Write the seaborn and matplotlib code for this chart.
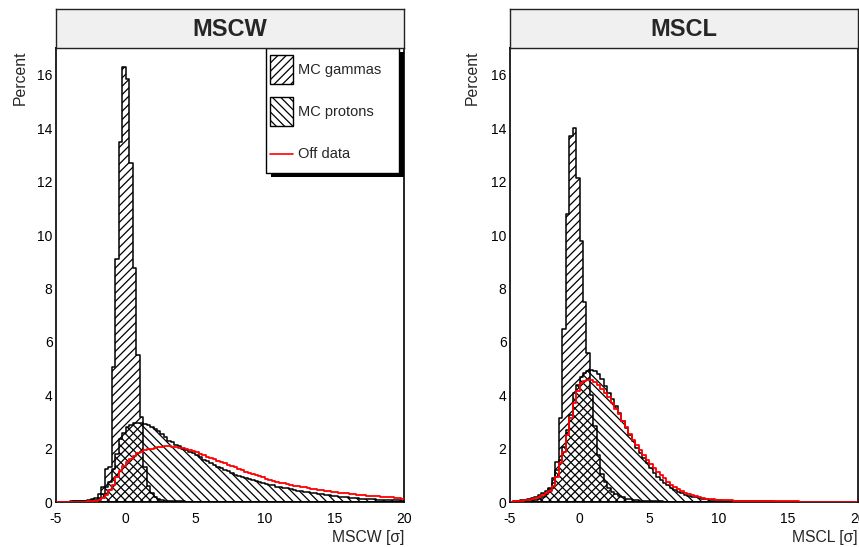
import numpy as np
import pandas as pd
import matplotlib
matplotlib.use("Agg")
import matplotlib.pyplot as plt
from matplotlib.patches import Patch, Rectangle
from matplotlib.lines import Line2D
from matplotlib.legend_handler import HandlerLine2D
from matplotlib.ticker import MultipleLocator
import seaborn as sns

sns.set_style("white")
plt.rcParams["font.family"] = ["Liberation Sans", "DejaVu Sans"]
plt.rcParams["axes.unicode_minus"] = False
plt.rcParams["hatch.linewidth"] = 0.9

# Binning shared by all histograms: 100 bins of 0.25 sigma from -5 to 20
BIN_EDGES = [round(-5.0 + 0.25 * i, 2) for i in range(101)]

# ---------------- MSCW (percent per bin) ----------------
mscw_gammas = [
    0.00, 0.00, 0.00, 0.01, 0.01, 0.02, 0.02, 0.03, 0.04, 0.06,
    0.10, 0.16, 0.30, 0.56, 1.25, 1.30, 5.05, 9.10, 13.50, 16.30,
    15.85, 12.70, 8.75, 5.50, 3.20, 1.30, 0.60, 0.35, 0.20, 0.12,
    0.08, 0.05, 0.04, 0.03, 0.02, 0.02, 0.02, 0.01, 0.01, 0.01,
    0.01, 0.01, 0.01, 0.01, 0.01, 0.00, 0.00, 0.00, 0.00, 0.00,
    0.00, 0.00, 0.00, 0.00, 0.00, 0.00, 0.00, 0.00, 0.00, 0.00,
    0.00, 0.00, 0.00, 0.00, 0.00, 0.00, 0.00, 0.00, 0.00, 0.00,
    0.00, 0.00, 0.00, 0.00, 0.00, 0.00, 0.00, 0.00, 0.00, 0.00,
    0.00, 0.00, 0.00, 0.00, 0.00, 0.00, 0.00, 0.00, 0.00, 0.00,
    0.00, 0.00, 0.00, 0.00, 0.00, 0.00, 0.00, 0.00, 0.00, 0.00,
]
mscw_protons = [
    0.00, 0.00, 0.01, 0.01, 0.02, 0.02, 0.03, 0.03, 0.04, 0.05,
    0.06, 0.08, 0.15, 0.30, 0.58, 0.75, 1.25, 1.80, 2.35, 2.60,
    2.80, 2.90, 2.95, 2.97, 2.97, 2.92, 2.87, 2.80, 2.75, 2.65,
    2.55, 2.42, 2.30, 2.24, 2.15, 2.08, 2.00, 1.96, 1.87, 1.82,
    1.76, 1.68, 1.59, 1.52, 1.45, 1.39, 1.32, 1.26, 1.20, 1.15,
    1.08, 1.03, 0.99, 0.95, 0.91, 0.87, 0.83, 0.79, 0.76, 0.72,
    0.68, 0.65, 0.62, 0.58, 0.55, 0.53, 0.51, 0.48, 0.45, 0.43,
    0.41, 0.39, 0.36, 0.34, 0.32, 0.30, 0.29, 0.27, 0.25, 0.23,
    0.21, 0.20, 0.19, 0.17, 0.16, 0.15, 0.14, 0.13, 0.12, 0.12,
    0.11, 0.10, 0.09, 0.09, 0.08, 0.07, 0.07, 0.06, 0.06, 0.05,
]
mscw_offdata = [
    0.00, 0.00, 0.00, 0.00, 0.00, 0.00, 0.01, 0.01, 0.01, 0.02,
    0.03, 0.05, 0.08, 0.15, 0.25, 0.45, 0.65, 0.95, 1.15, 1.35,
    1.50, 1.62, 1.74, 1.82, 1.88, 1.93, 1.97, 2.00, 2.03, 2.05,
    2.07, 2.08, 2.08, 2.07, 2.06, 2.04, 2.01, 1.98, 1.93, 1.90,
    1.86, 1.80, 1.75, 1.70, 1.64, 1.60, 1.55, 1.50, 1.45, 1.40,
    1.35, 1.30, 1.25, 1.20, 1.14, 1.10, 1.05, 1.00, 0.96, 0.92,
    0.87, 0.83, 0.79, 0.76, 0.73, 0.70, 0.67, 0.64, 0.61, 0.59,
    0.57, 0.55, 0.52, 0.50, 0.48, 0.46, 0.44, 0.42, 0.40, 0.38,
    0.37, 0.35, 0.33, 0.32, 0.30, 0.29, 0.28, 0.26, 0.25, 0.24,
    0.23, 0.22, 0.21, 0.20, 0.19, 0.18, 0.17, 0.16, 0.15, 0.13,
]

# ---------------- MSCL (percent per bin) ----------------
mscl_gammas = [
    0.01, 0.01, 0.02, 0.03, 0.04, 0.05, 0.06, 0.08, 0.12, 0.18,
    0.30, 0.50, 0.90, 1.50, 3.13, 6.50, 10.78, 13.70, 14.00, 12.15,
    9.79, 7.50, 5.57, 4.00, 2.85, 1.75, 1.05, 0.76, 0.52, 0.39,
    0.30, 0.22, 0.17, 0.13, 0.10, 0.08, 0.06, 0.05, 0.04, 0.03,
    0.03, 0.02, 0.02, 0.02, 0.01, 0.01, 0.01, 0.01, 0.01, 0.01,
    0.01, 0.01, 0.01, 0.01, 0.01, 0.01, 0.00, 0.00, 0.00, 0.00,
    0.00, 0.00, 0.00, 0.00, 0.00, 0.00, 0.00, 0.00, 0.00, 0.00,
    0.00, 0.00, 0.00, 0.00, 0.00, 0.00, 0.00, 0.00, 0.00, 0.00,
    0.00, 0.00, 0.00, 0.00, 0.00, 0.00, 0.00, 0.00, 0.00, 0.00,
    0.00, 0.00, 0.00, 0.00, 0.00, 0.00, 0.00, 0.00, 0.00, 0.00,
]
mscl_protons = [
    0.01, 0.02, 0.04, 0.06, 0.09, 0.12, 0.15, 0.20, 0.25, 0.33,
    0.40, 0.51, 0.70, 1.20, 1.57, 2.07, 2.70, 3.26, 4.07, 4.40,
    4.70, 4.85, 4.90, 4.94, 4.92, 4.78, 4.60, 4.35, 4.10, 3.85,
    3.60, 3.35, 3.05, 2.78, 2.50, 2.27, 2.03, 1.83, 1.63, 1.45,
    1.27, 1.08, 0.95, 0.83, 0.72, 0.63, 0.54, 0.46, 0.39, 0.33,
    0.28, 0.24, 0.20, 0.17, 0.14, 0.12, 0.10, 0.09, 0.08, 0.07,
    0.06, 0.05, 0.05, 0.04, 0.04, 0.03, 0.03, 0.03, 0.02, 0.02,
    0.02, 0.02, 0.02, 0.02, 0.02, 0.02, 0.01, 0.01, 0.01, 0.01,
    0.01, 0.01, 0.01, 0.01, 0.01, 0.01, 0.01, 0.01, 0.01, 0.01,
    0.01, 0.00, 0.00, 0.00, 0.00, 0.00, 0.00, 0.00, 0.00, 0.00,
]
mscl_offdata = [
    0.01, 0.02, 0.03, 0.04, 0.06, 0.08, 0.11, 0.15, 0.20, 0.25,
    0.32, 0.42, 0.60, 0.95, 1.45, 1.88, 2.50, 3.13, 3.70, 4.15,
    4.45, 4.54, 4.56, 4.56, 4.50, 4.40, 4.25, 4.10, 3.92, 3.72,
    3.50, 3.28, 3.05, 2.80, 2.56, 2.33, 2.12, 1.95, 1.76, 1.58,
    1.42, 1.27, 1.13, 1.02, 0.90, 0.76, 0.65, 0.55, 0.47, 0.40,
    0.34, 0.30, 0.26, 0.22, 0.19, 0.16, 0.13, 0.11, 0.10, 0.09,
    0.08, 0.07, 0.06, 0.06, 0.05, 0.05, 0.04, 0.04, 0.04, 0.03,
    0.03, 0.03, 0.03, 0.03, 0.03, 0.03, 0.02, 0.02, 0.02, 0.02,
    0.02, 0.02, 0.02, 0.01, 0.01, 0.01, 0.01, 0.01, 0.01, 0.01,
    0.01, 0.01, 0.01, 0.01, 0.01, 0.01, 0.01, 0.01, 0.01, 0.01,
]

panels = [
    ("MSCW", "MSCW [σ]", mscw_gammas, mscw_protons, mscw_offdata),
    ("MSCL", "MSCL [σ]", mscl_gammas, mscl_protons, mscl_offdata),
]
legend_labels = ["MC gammas", "MC protons", "Off data"]

GAMMA_HATCH = "////"
PROTON_HATCH = "\\\\\\\\"


class CenteredLineHandler(HandlerLine2D):
    """Legend line drawn through the vertical middle of its handle box."""

    def create_artists(self, legend, orig_handle, xdescent, ydescent, width,
                       height, fontsize, trans):
        artists = super().create_artists(legend, orig_handle, xdescent, ydescent,
                                         width, height, fontsize, trans)
        for a in artists:
            if isinstance(a, Line2D):
                a.set_ydata(np.full_like(np.asarray(a.get_ydata(), float),
                                         height / 2 - ydescent))
        return artists


W, H = 859, 547
fig = plt.figure(figsize=(W / 100, H / 100), dpi=100)

# pixel geometry of each panel: (left, right) ; shared top/bottom
ax_top, ax_bot = 48.3, 502.0
title_top = 8.7
panel_x = [(56.0, 404.3), (510.0, 857.7)]
ylabel_x = [-0.080, -0.087]


def fig_rect(x0, x1, y0, y1):
    return [x0 / W, (H - y1) / H, (x1 - x0) / W, (y1 - y0) / H]


edges = np.asarray(BIN_EDGES)
centers = 0.5 * (edges[:-1] + edges[1:])

for k, (name, xlabel, gam, pro, off) in enumerate(panels):
    x0, x1 = panel_x[k]
    ax = fig.add_axes(fig_rect(x0, x1, ax_top, ax_bot))
    df = pd.DataFrame({"x": centers, "gammas": gam, "protons": pro, "off": off})

    sns.histplot(data=df, x="x", weights="gammas", bins=BIN_EDGES, element="step",
                 fill=True, color="black", facecolor="none", edgecolor="black",
                 hatch=GAMMA_HATCH, linewidth=1.1, ax=ax, zorder=2)
    sns.histplot(data=df, x="x", weights="protons", bins=BIN_EDGES, element="step",
                 fill=True, color="black", facecolor="none", edgecolor="black",
                 hatch=PROTON_HATCH, linewidth=1.1, ax=ax, zorder=3)
    sns.histplot(data=df, x="x", weights="off", bins=BIN_EDGES, element="step",
                 fill=False, color="red", linewidth=1.3, ax=ax, zorder=4)

    ax.set_xlim(-5, 20)
    ax.set_ylim(0, 17)
    ax.xaxis.set_major_locator(MultipleLocator(5))
    ax.xaxis.set_minor_locator(MultipleLocator(1))
    ax.yaxis.set_major_locator(MultipleLocator(2))
    ax.yaxis.set_minor_locator(MultipleLocator(0.5))
    ax.set_yticks(np.arange(0, 17, 2))
    ax.tick_params(axis="both", which="both", direction="in", top=False, right=False,
                   colors="black", width=0.9)
    ax.tick_params(axis="x", which="major", length=6, pad=7, labelsize=10)
    ax.tick_params(axis="x", which="minor", length=3)
    ax.tick_params(axis="y", which="major", length=6, pad=2.5, labelsize=10)
    ax.tick_params(axis="y", which="minor", length=3)
    for sp in ax.spines.values():
        sp.set_visible(True)
        sp.set_color("black")
        sp.set_linewidth(1.2)

    ax.set_xlabel(xlabel, loc="right", fontsize=11.3)
    ax.xaxis.set_label_coords(1.0, -0.062)
    ax.set_ylabel("Percent", loc="top", fontsize=11.3)
    ax.yaxis.set_label_coords(ylabel_x[k], 0.996)

    # title pave
    tax = fig.add_axes(fig_rect(x0, x1, title_top, ax_top))
    tax.set_facecolor("#f0f0f0")
    tax.set_xticks([])
    tax.set_yticks([])
    for sp in tax.spines.values():
        sp.set_color("#222222")
        sp.set_linewidth(1.0)
    tax.text(0.5, 0.47, name, ha="center", va="center", fontsize=17,
             fontweight="bold", transform=tax.transAxes)

    if k == 0:
        aw, ah = x1 - x0, ax_bot - ax_top
        lx0, lx1 = (265.7 - x0) / aw, (399.3 - x0) / aw
        ly0, ly1 = (ax_bot - 173.3) / ah, (ax_bot - 48.3) / ah
        ax.add_patch(Rectangle((lx0 + 5 / aw, ly0 - 4 / ah), lx1 - lx0, ly1 - ly0,
                               transform=ax.transAxes, facecolor="black",
                               edgecolor="none", zorder=5))
        ax.add_patch(Rectangle((lx0, ly0), lx1 - lx0, ly1 - ly0,
                               transform=ax.transAxes, facecolor="white",
                               edgecolor="black", linewidth=1.0, zorder=6))
        red_line = Line2D([], [], color="red", linewidth=1.2)
        handles = [
            Patch(facecolor="white", edgecolor="black", hatch=GAMMA_HATCH, linewidth=1.0),
            Patch(facecolor="white", edgecolor="black", hatch=PROTON_HATCH, linewidth=1.0),
            red_line,
        ]
        fs = 10.5
        fs_px = fs * 100 / 72
        # handle box height = fs * (0.65 * hh + 0.245) -> 29 px tall boxes
        hh = (29 / fs_px - 0.245) / 0.65
        leg = ax.legend(handles, legend_labels, loc="upper left",
                        bbox_to_anchor=((270 - x0) / aw, (ax_bot - 55) / ah),
                        frameon=False, fontsize=fs, borderpad=0, borderaxespad=0,
                        handlelength=23 / fs_px, handleheight=hh,
                        labelspacing=13 / fs_px, handletextpad=5 / fs_px,
                        handler_map={red_line: CenteredLineHandler()})
        leg.set_zorder(7)
    else:
        leg = ax.get_legend()
        if leg is not None:
            leg.remove()

fig.savefig("out.png", dpi=100)
